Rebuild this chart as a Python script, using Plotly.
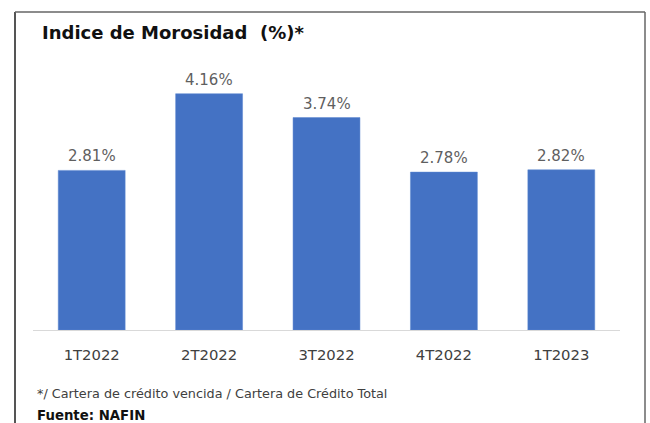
import plotly.graph_objects as go

categories = ["1T2022", "2T2022", "3T2022", "4T2022", "1T2023"]
values = [2.81, 4.16, 3.74, 2.78, 2.82]
labels = [f"{v:.2f}%" for v in values]

title_text = "Indice de Morosidad  (%)*"
note_text = "*/ Cartera de crédito vencida / Cartera de Crédito Total"
source_text = "Fuente: NAFIN"

W, H = 650, 423
ml, mr, mt, mb = 33, 30, 46, 93
pw = W - ml - mr
ph = H - mt - mb

def px_x(x):
    return (x - ml) / pw

def px_y(y):
    return (H - mb - y) / ph

FONT = "DejaVu Sans"

fig = go.Figure(
    go.Bar(
        x=categories,
        y=values,
        marker=dict(color="#4472C4", line=dict(color="#5a86d0", width=0.5)),
        width=0.57,
        cliponaxis=False,
        hoverinfo="x+y",
    )
)

annotations = [
    dict(x=c, y=v, text=t, xref="x", yref="y", xanchor="center", yanchor="bottom",
         showarrow=False, yshift=3,
         font=dict(family=FONT, size=15, color="#5f5f5f"))
    for c, v, t in zip(categories, values, labels)
]

annotations += [
    dict(text="<b>" + title_text + "</b>", x=px_x(40), y=px_y(33), xref="paper", yref="paper",
         xanchor="left", yanchor="middle", showarrow=False,
         font=dict(family=FONT, size=18, color="#111111")),
    dict(text=note_text, x=px_x(35), y=px_y(393), xref="paper", yref="paper",
         xanchor="left", yanchor="middle", showarrow=False,
         font=dict(family=FONT, size=12.8, color="#404040")),
    dict(text="<b>" + source_text + "</b>", x=px_x(35), y=px_y(415), xref="paper", yref="paper",
         xanchor="left", yanchor="middle", showarrow=False,
         font=dict(family=FONT, size=13.3, color="#111111")),
]

fig.update_layout(
    width=W,
    height=H,
    margin=dict(l=ml, r=mr, t=mt, b=mb),
    paper_bgcolor="white",
    plot_bgcolor="white",
    showlegend=False,
    font=dict(family=FONT),
    xaxis=dict(
        showline=True,
        linecolor="#d9d9d9",
        linewidth=1,
        showgrid=False,
        ticks="",
        tickfont=dict(family=FONT, size=14.8, color="#404040"),
        ticklabelstandoff=11,
        fixedrange=True,
    ),
    yaxis=dict(
        range=[0, 5.0],
        visible=False,
        showgrid=False,
        zeroline=False,
    ),
    annotations=annotations,
    shapes=[
        dict(type="line", xref="paper", yref="paper", x0=px_x(15), x1=px_x(15), y0=px_y(12), y1=px_y(H + 5),
             line=dict(color="#555555", width=2)),
        dict(type="line", xref="paper", yref="paper", x0=px_x(15), x1=px_x(645), y0=px_y(12), y1=px_y(12),
             line=dict(color="#666666", width=1.5)),
        dict(type="line", xref="paper", yref="paper", x0=px_x(645), x1=px_x(645), y0=px_y(12), y1=px_y(H + 5),
             line=dict(color="#666666", width=1.5)),
    ],
)

fig.write_html(
    "out.html",
    config={"displayModeBar": False},
    post_script="document.body.style.margin='0px';document.body.style.overflow='hidden';",
)
